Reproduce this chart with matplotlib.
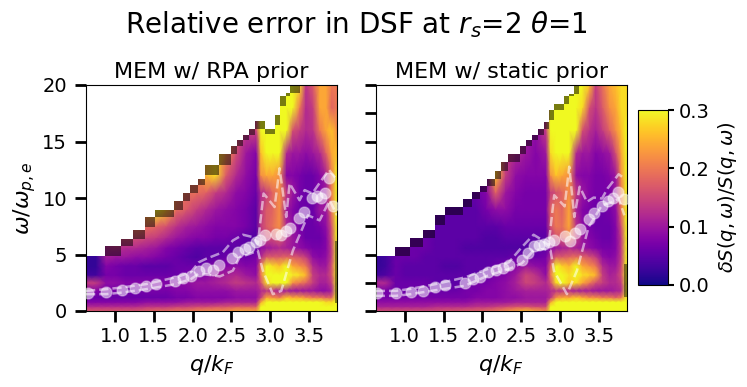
import numpy as np
import matplotlib.pyplot as plt

# grid of the error map
qGrid = [0.63, 0.755, 0.885, 1.01, 1.14, 1.27, 1.40, 1.53, 1.66, 1.79, 1.92, 2.05, 2.17, 2.30, 2.43, 2.56,
         2.69, 2.82, 2.88, 2.95, 3.03, 3.12, 3.21, 3.29, 3.38, 3.46, 3.55, 3.64, 3.72, 3.79, 3.86]
wGrid = [0, 0.4, 0.8, 1.2, 1.8, 2.5, 3.2, 4, 4.8, 5.6, 6.5, 7.5, 9, 10.5, 12, 14, 16, 18, 20]

# relative error x100, one row per wGrid value
errRpa = [
    [17,17,17,17,17,17,18,19,19,20,20,21,22,22,22,24,24,24,30,30,30,30,30,30,30,30,30,30,30,30,30],
    [12,12,12,12,12,12,13,13,13,14,14,15,15,16,16,17,17,17,30,30,30,30,30,30,30,30,30,30,30,30,30],
    [8,8,8,8,8,8,9,9,9,9,10,10,10,10,11,11,11,11,24,30,30,30,30,30,30,30,30,30,28,28,30],
    [6,6,6,6,6,6,6,6,6,7,7,8,8,8,8,9,9,9,14,24,22,20,26,24,24,22,20,20,18,18,30],
    [8,8,7,7,6,6,7,7,7,8,8,9,9,9,9,10,10,10,12,13,13,11,11,10,10,10,10,9,9,11,30],
    [14,14,9,9,8,8,8,8,8,8,9,10,10,11,12,14,13,12,16,28,30,30,30,22,20,18,14,11,11,14,30],
    [3,3,7,7,6,6,6,6,6,6,7,7,8,10,11,12,10,9,20,30,30,30,30,29,28,25,14,12,12,16,30],
    [2,2,8,7,6,6,5,5,5,6,6,6,6,8,8,9,8,8,20,30,28,26,30,24,22,20,12,10,10,16,30],
    [2,2,11,10,10,9,9,8,7,6,5,4,5,5,6,7,6,7,12,17,17,17,18,17,16,14,9,8,9,14,30],
    [2,2,12,13,12,12,11,10,8,7,6,5,5,5,5,5,5,5,9,10,11,12,11,10,9,8,7,7,8,14,30],
    [2,2,12,14,16,16,15,14,12,10,9,8,8,7,7,6,5,4,12,15,16,18,12,10,8,6,6,6,8,15,30],
    [2,2,12,14,16,20,19,18,16,13,11,10,9,8,8,8,7,5,14,17,19,22,12,9,7,6,6,7,9,16,30],
    [2,2,12,14,16,20,24,30,26,19,17,14,12,10,9,8,7,5,13,17,18,22,10,8,6,6,6,10,10,20,30],
    [2,2,12,14,16,20,24,30,26,20,19,19,18,14,12,9,8,6,12,14,18,22,14,10,7,6,6,8,10,20,30],
    [2,2,12,14,16,20,24,30,26,20,19,19,25,28,17,12,9,7,22,24,24,22,8,8,7,6,6,8,11,20,30],
    [2,2,12,14,16,20,24,30,26,20,19,19,25,28,22,16,10,8,26,30,30,30,12,10,10,9,10,12,18,24,26],
    [2,2,12,14,16,20,24,30,26,20,19,19,25,28,22,16,14,15,30,30,30,30,30,16,14,12,13,20,24,26,22],
    [2,2,12,14,16,20,24,30,26,20,19,19,25,28,22,16,14,15,30,30,30,30,30,30,20,12,14,24,24,18,20],
    [2,2,12,14,16,20,24,30,26,20,19,19,25,28,22,16,14,15,30,30,30,30,30,30,28,13,17,24,24,20,20],
]
errStatic = [
    [16,16,16,16,16,16,16,17,17,18,18,19,20,22,24,26,24,22,30,30,30,30,30,30,30,30,30,30,30,30,30],
    [11,11,11,11,11,11,12,12,12,12,13,13,14,15,16,16,15,15,30,30,30,30,30,30,30,30,30,30,30,30,30],
    [9,9,9,9,9,9,9,9,9,9,10,10,10,10,11,11,11,11,24,30,30,30,30,30,30,30,30,30,30,30,30],
    [7,7,7,7,7,7,7,7,7,7,8,8,8,9,9,10,10,10,13,22,24,24,26,24,22,22,20,20,18,20,30],
    [7,7,6,6,6,6,6,6,6,7,7,8,8,9,10,11,11,11,12,13,13,12,11,11,11,10,10,10,11,12,30],
    [12,12,6,6,6,6,5,5,5,6,7,7,8,9,11,15,14,12,16,28,30,27,28,24,20,16,14,12,12,14,30],
    [3,4,6,5,5,5,5,5,5,5,5,6,7,8,10,15,13,9,20,30,30,28,30,28,27,25,14,11,12,16,30],
    [2,3,6,5,5,5,5,4,4,5,5,5,6,7,8,10,9,8,18,30,27,25,30,24,22,20,12,10,10,15,30],
    [2,3,6,6,6,5,5,5,5,5,5,5,5,5,6,6,6,7,12,17,17,18,19,18,16,14,9,8,9,14,30],
    [2,3,6,6,6,6,5,5,5,4,4,4,4,4,4,4,5,5,9,10,11,12,11,10,9,8,7,7,8,14,30],
    [2,3,6,6,6,6,5,5,5,5,5,4,4,5,5,5,5,5,13,16,17,20,14,10,8,7,6,6,8,14,30],
    [2,3,6,6,6,6,5,5,5,5,5,5,5,6,6,6,6,6,16,20,19,24,13,9,7,6,6,6,8,16,30],
    [2,3,6,6,6,6,5,5,5,5,5,7,9,9,7,7,7,7,18,20,18,24,11,8,7,6,6,7,9,20,30],
    [2,3,6,6,6,6,5,5,5,5,6,8,18,10,8,7,7,7,14,16,18,22,14,10,8,7,7,7,10,20,30],
    [2,3,6,6,6,6,5,5,5,5,6,8,26,14,9,8,8,8,22,26,24,22,9,8,8,7,7,8,10,22,30],
    [2,3,6,6,6,6,5,5,5,5,6,8,26,14,12,10,8,10,28,30,30,30,12,10,10,8,9,10,16,24,30],
    [2,3,6,6,6,6,5,5,5,5,6,8,26,14,12,10,9,14,30,30,30,30,30,16,13,11,14,18,22,26,30],
    [2,3,6,6,6,6,5,5,5,5,6,8,26,14,12,10,9,14,30,30,30,30,30,28,16,13,17,22,24,28,28],
    [2,3,6,6,6,6,5,5,5,5,6,8,26,14,12,10,9,14,30,30,30,30,30,30,26,14,19,24,26,28,28],
]

# stepped upper limit of the map (no data above it)
edgeRpa = [0.626, 0.875, 1.073, 1.237, 1.391, 1.52, 1.766, 1.873, 1.972, 2.067, 2.165, 2.337, 2.497, 2.574,
           2.647, 2.72, 2.798, 2.927, 3.056, 3.12, 3.197, 3.249, 3.378, 3.86]
topRpa = [4.84, 5.74, 6.39, 7.19, 8.32, 8.97, 9.75, 10.46, 11.11, 11.68, 12.93, 13.85, 14.62, 15.16,
          15.6, 16.1, 16.79, 16.1, 17.38, 19.02, 19.32, 20, 20]
edgeStatic = [0.626, 0.875, 1.069, 1.241, 1.391, 1.52, 1.757, 1.869, 1.972, 2.062, 2.157, 2.239, 2.337, 2.488,
              2.565, 2.643, 2.716, 2.789, 2.862, 2.926, 3.056, 3.12, 3.185, 3.25, 3.86]
topStatic = [4.84, 5.65, 6.45, 7.19, 8.47, 9.2, 9.9, 10.5, 11.1, 11.7, 12.35, 13.2, 13.9, 14.56,
             15.1, 15.6, 16.1, 16.7, 17.8, 18.3, 19.0, 19.2, 20, 20]

# dark strip on the last column
stripRpa = [0.7, 6.2]
stripStatic = [1.2, 4.2]

# peak position with its width
qPeakRpa = [0.648, 0.884, 1.086, 1.254, 1.40, 1.525, 1.774, 1.877, 1.976, 2.079, 2.170, 2.264, 2.342, 2.505, 2.583, 2.669,
            2.724, 2.819, 2.871, 2.935, 3.077, 3.142, 3.206, 3.258, 3.369, 3.438, 3.541, 3.602, 3.658, 3.709, 3.756, 3.808]
wPeakRpa = [1.63, 1.69, 1.84, 2.02, 2.17, 2.38, 2.67, 2.94, 3.09, 3.54, 3.83, 3.63, 4.10, 4.70, 5.23, 5.50,
            5.65, 6.12, 6.30, 6.71, 6.83, 6.71, 7.07, 7.37, 8.26, 8.80, 9.96, 10.22, 9.96, 10.43, 11.77, 9.33]
qUpRpa = [0.626, 0.884, 1.086, 1.40, 1.774, 1.976, 2.079, 2.17, 2.389, 2.518, 2.647, 2.776, 2.84, 2.914, 3.056, 3.12,
          3.206, 3.249, 3.378, 3.443, 3.541, 3.602, 3.756, 3.86]
wUpRpa = [1.78, 1.93, 2.08, 2.38, 2.97, 3.42, 4.31, 4.61, 5.2, 6.24, 6.75, 6.54, 5.94, 10.4, 9.2, 12.63,
          8.32, 11.3, 9.8, 10.7, 10.4, 11.0, 12.5, 11.6]
qLowRpa = [0.626, 0.884, 1.086, 1.40, 1.774, 1.976, 2.079, 2.264, 2.35, 2.518, 2.604, 2.733, 2.84, 2.905, 3.034, 3.142,
           3.292, 3.486, 3.636, 3.765, 3.86]
wLowRpa = [1.49, 1.49, 1.63, 1.93, 2.37, 2.82, 3.3, 3.15, 3.06, 3.57, 4.76, 5.05, 5.35, 3.57, 1.49, 1.78,
           5.35, 8.47, 8.02, 9.8, 8.47]

qPeakStatic = [0.639, 0.884, 1.078, 1.241, 1.396, 1.525, 1.774, 1.877, 1.976, 2.067, 2.174, 2.264, 2.342, 2.509, 2.583, 2.664,
               2.724, 2.793, 2.853, 2.926, 3.060, 3.124, 3.197, 3.258, 3.369, 3.438, 3.541, 3.614, 3.679, 3.752, 3.821]
wPeakStatic = [1.58, 1.55, 1.69, 1.81, 2.11, 2.29, 2.50, 2.82, 3.03, 3.42, 3.66, 3.83, 4.10, 4.55, 5.17, 5.74,
               5.88, 5.91, 6.12, 6.30, 6.60, 6.21, 6.92, 7.25, 8.17, 8.68, 9.33, 9.72, 10.04, 10.49, 9.87]
qUpStatic = [0.626, 0.884, 1.078, 1.396, 1.774, 2.067, 2.342, 2.509, 2.66, 2.746, 2.853, 2.926, 3.06, 3.12, 3.185, 3.254,
             3.348, 3.434, 3.541, 3.614, 3.756, 3.83]
wUpStatic = [1.78, 1.78, 1.96, 2.38, 2.97, 3.71, 4.31, 5.65, 6.75, 6.39, 5.8, 10.25, 9.26, 12.77, 8.32, 11.0,
             9.66, 10.04, 9.95, 10.85, 12.1, 11.73]
qLowStatic = [0.626, 0.884, 1.078, 1.396, 1.774, 2.067, 2.342, 2.509, 2.66, 2.793, 2.879, 2.922, 3.09, 3.219, 3.369, 3.541,
              3.691, 3.756, 3.83]
wLowStatic = [1.34, 1.34, 1.49, 1.84, 2.23, 3.12, 3.71, 4.22, 5.35, 5.5, 5.35, 3.57, 1.49, 3.57, 7.43, 9.36,
              9.66, 9.95, 8.47]

W, H = 747, 387


def MakeAxes(x0, x1, y0, y1):
    return fig.add_axes([x0 / W, 1 - y1 / H, (x1 - x0) / W, (y1 - y0) / H])


def DrawPanel(ax, err, edge, top, strip, qPeak, wPeak, qUp, wUp, qLow, wLow, title):
    mesh = ax.pcolormesh(qGrid, wGrid, np.array(err) / 100, shading="gouraud", cmap="plasma",
                         vmin=0, vmax=0.3, rasterized=True)
    # mask everything above the step, dark rim runs down towards the step before
    topStep = np.array(top + [top[-1]])
    prevTop = np.r_[topStep[0], topStep[:-1]]
    rim = np.maximum(np.where(prevTop < topStep, prevTop, topStep - 0.4), topStep - 0.9)
    rim[0] = topStep[0]
    rim[-2:] = topStep[-2:]
    ax.fill_between(edge, rim, topStep, step="post", color="black", alpha=0.5, lw=0, zorder=2)
    ax.fill_between(edge, topStep, 21, step="post", color="white", lw=0, zorder=2)
    ax.fill_between([3.83, 3.86], strip[0], strip[1], color="black", alpha=0.45, lw=0, zorder=2)
    ax.plot(qPeak, wPeak, "o", ms=8, mfc=(1, 1, 1, 0.55), mec=(1, 1, 1, 0.3), mew=1, zorder=3)
    ax.plot(qUp, wUp, ls="--", color="white", alpha=0.55, lw=1.8, zorder=4)
    ax.plot(qLow, wLow, ls="--", color="white", alpha=0.55, lw=1.8, zorder=4)
    ax.set_xlim(0.626, 3.86)
    ax.set_ylim(0, 20)
    ax.set_xticks([1.0, 1.5, 2.0, 2.5, 3.0, 3.5])
    ax.set_xlabel(r"$q/k_F$", fontsize=16, labelpad=5)
    ax.set_title(title, fontsize=16, pad=5)
    ax.tick_params(length=8, width=2, labelsize=14)
    ax.tick_params(axis="y", pad=5.5)
    return mesh


fig = plt.figure(figsize=(W / 100, H / 100), dpi=100)

ax1 = MakeAxes(86, 337, 85, 311)
ax2 = MakeAxes(375.7, 626.7, 85, 311)
mesh = DrawPanel(ax1, errRpa, edgeRpa, topRpa, stripRpa, qPeakRpa, wPeakRpa, qUpRpa, wUpRpa, qLowRpa, wLowRpa,
                 "MEM w/ RPA prior")
DrawPanel(ax2, errStatic, edgeStatic, topStatic, stripStatic, qPeakStatic, wPeakStatic, qUpStatic, wUpStatic,
          qLowStatic, wLowStatic, "MEM w/ static prior")

ax1.set_yticks([0, 5, 10, 15, 20])
ax1.set_ylabel(r"$\omega/\omega_{p,e}$", fontsize=16, labelpad=3)
ax2.set_yticks(np.arange(0, 20.1, 2.5))
ax2.set_yticklabels([])

cax = MakeAxes(638, 668, 110, 285)
cbar = fig.colorbar(mesh, cax=cax)
cbar.set_ticks([0, 0.1, 0.2, 0.3])
cbar.ax.tick_params(length=4, width=1.5, labelsize=14)
cbar.set_label(r"$\delta S(q,\omega)/S(q,\omega)$", fontsize=14, labelpad=5)

fig.suptitle(r"Relative error in DSF at $r_s$=2 $\theta$=1", fontsize=20, x=356 / W, y=1 - 25 / H, va="center")

plt.savefig("out.png", dpi=100)
